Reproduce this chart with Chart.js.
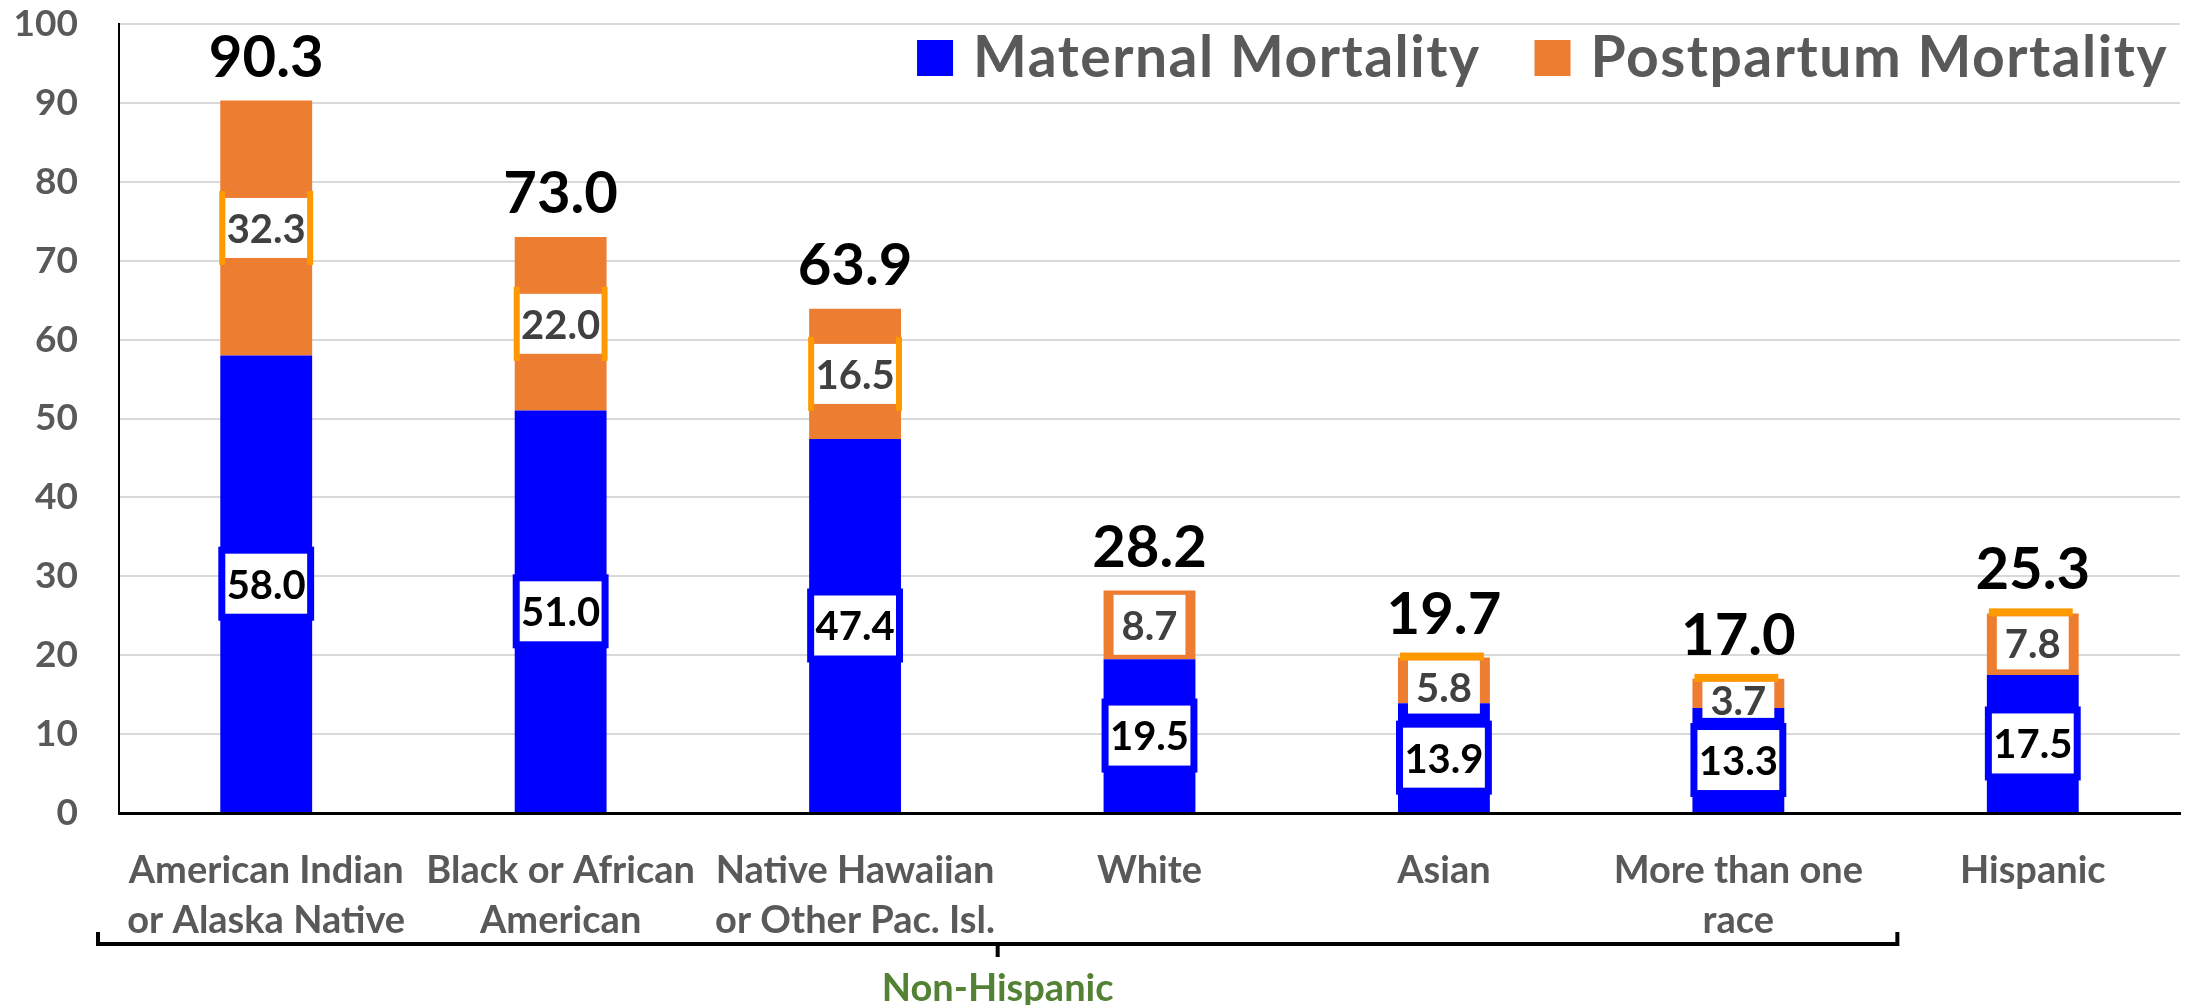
<!DOCTYPE html>
<html>
<head>
<meta charset="utf-8">
<script src="https://cdn.jsdelivr.net/npm/chart.js@4.4.1/dist/chart.umd.min.js"></script>
<style>
  html, body { margin: 0; padding: 0; background: #fff; }
  #wrap { width: 2195px; height: 1005px; position: relative; }
</style>
</head>
<body>
<div id="wrap"><canvas id="chart"></canvas></div>
<script>
// data
const categories = [
    ["American Indian", "or Alaska Native"],
    ["Black or African", "American"],
    ["Native Hawaiian", "or Other Pac. Isl."],
    "White",
    "Asian",
    ["More than one", "race"],
    "Hispanic"
];
const maternal = [58.0, 51.0, 47.4, 19.5, 13.9, 13.3, 17.5];
const postpartum = [32.3, 22.0, 16.5, 8.7, 5.8, 3.7, 7.8];
const totals = [90.3, 73.0, 63.9, 28.2, 19.7, 17.0, 25.3];
const seriesNames = ["Maternal Mortality", "Postpartum Mortality"];
const groupLabel = "Non-Hispanic";
const groupSize = 6; // first six categories are non-hispanic

const FONT = 'Lato, "Open Sans", sans-serif';
const BLUE = '#0000FF';
const ORANGE = '#ED7D31';
const BRIGHT = '#FF9900';
const GRAY = '#595959';

// white value boxes inside each segment
const segmentLabels = {
    id: 'segmentLabels',
    afterDatasetsDraw(chart) {
        const ctx = chart.ctx;
        ctx.save();
        ctx.font = 'bold 40px ' + FONT;
        ctx.textAlign = 'center';
        ctx.textBaseline = 'middle';

        chart.data.datasets.forEach(function (ds, di) {
            const meta = chart.getDatasetMeta(di);
            meta.data.forEach(function (bar, i) {
                const text = ds.data[i].toFixed(1);
                const top = Math.min(bar.y, bar.base);
                const bottom = Math.max(bar.y, bar.base);
                const segH = bottom - top;
                const tw = ctx.measureText(text).width;
                const w = Math.min(bar.width - 10, tw + 16);
                let h = 60;
                let cy = (top + bottom) / 2;

                if (di === 0) {
                    ctx.fillStyle = BLUE;
                    ctx.fillRect(bar.x - w / 2 - 7, cy - h / 2 - 7, w + 14, h + 14);
                } else if (segH >= 100) {
                    ctx.fillStyle = BRIGHT;
                    ctx.fillRect(bar.x - w / 2 - 6, cy - 37, 6, 74);
                    ctx.fillRect(bar.x + w / 2, cy - 37, 6, 74);
                } else if (segH < 65) {
                    h = segH < 40 ? 36 : 53;
                    ctx.fillStyle = BRIGHT;
                    ctx.fillRect(bar.x - bar.width / 2 + 2, top - 5, bar.width - 8, 8);
                    cy = top + 3 + h / 2;
                }

                ctx.fillStyle = '#FFFFFF';
                ctx.fillRect(bar.x - w / 2, cy - h / 2, w, h);
                ctx.fillStyle = di === 0 ? '#000000' : '#404040';
                ctx.fillText(text, bar.x, cy + 2);
            });
        });

        // totals on top of each stack
        const topMeta = chart.getDatasetMeta(chart.data.datasets.length - 1);
        ctx.font = 'bold 58px ' + FONT;
        ctx.fillStyle = '#000000';
        ctx.textBaseline = 'alphabetic';
        topMeta.data.forEach(function (bar, i) {
            ctx.fillText(totals[i].toFixed(1), bar.x, bar.y - 24);
        });
        ctx.restore();
    }
};

// legend inside the plot, bracket and group label under the axis
const extras = {
    id: 'extras',
    afterDraw(chart) {
        const ctx = chart.ctx;
        const area = chart.chartArea;
        const xScale = chart.scales.x;
        ctx.save();

        // legend, laid out from the right edge
        ctx.font = 'bold 57px ' + FONT;
        ctx.letterSpacing = '1.5px';
        ctx.textBaseline = 'alphabetic';
        ctx.textAlign = 'left';
        let right = area.right - 12;
        const items = chart.data.datasets.slice().reverse();
        items.forEach(function (ds) {
            const tw = ctx.measureText(ds.label).width;
            const tx = right - tw;
            ctx.fillStyle = GRAY;
            ctx.fillText(ds.label, tx, 77);
            ctx.fillStyle = ds.backgroundColor;
            ctx.fillRect(tx - 20 - 36, 40, 36, 36);
            right = tx - 20 - 36 - 54;
        });
        ctx.letterSpacing = '0px';

        // bracket under the non-hispanic groups
        const step = xScale.getPixelForValue(1) - xScale.getPixelForValue(0);
        const x0 = area.left - 21;
        const x1 = xScale.getPixelForValue(groupSize - 1) + step * 0.54;
        const yb = area.bottom + 131;
        ctx.strokeStyle = '#000000';
        ctx.lineWidth = 4;
        ctx.beginPath();
        ctx.moveTo(x0, yb - 12);
        ctx.lineTo(x0, yb);
        ctx.lineTo(x1, yb);
        ctx.lineTo(x1, yb - 12);
        ctx.moveTo((x0 + x1) / 2, yb);
        ctx.lineTo((x0 + x1) / 2, yb + 13);
        ctx.stroke();

        ctx.font = 'bold 38px ' + FONT;
        ctx.fillStyle = '#548235';
        ctx.textAlign = 'center';
        ctx.fillText(groupLabel, (x0 + x1) / 2, area.bottom + 188);
        ctx.restore();
    }
};

const ctx = document.getElementById('chart');
new Chart(ctx, {
    type: 'bar',
    data: {
        labels: categories,
        datasets: [{
            label: seriesNames[0],
            data: maternal,
            backgroundColor: BLUE,
            borderWidth: 0,
            categoryPercentage: 0.8,
            barPercentage: 0.39
        }, {
            label: seriesNames[1],
            data: postpartum,
            backgroundColor: ORANGE,
            borderWidth: 0,
            categoryPercentage: 0.8,
            barPercentage: 0.39
        }]
    },
    options: {
        responsive: true,
        maintainAspectRatio: false,
        animation: false,
        layout: {
            padding: { top: 24, right: 15, left: 0, bottom: 0 }
        },
        plugins: {
            legend: { display: false },
            tooltip: { enabled: false }
        },
        scales: {
            x: {
                stacked: true,
                grid: { display: false },
                border: { color: '#000000', width: 3 },
                ticks: {
                    color: GRAY,
                    font: { family: FONT, size: 38, weight: 'bold', lineHeight: 1.32 },
                    maxRotation: 0,
                    minRotation: 0,
                    autoSkip: false,
                    padding: 25
                },
                afterFit: function (scale) {
                    scale.height = 192;
                    scale.paddingLeft = 0;
                    scale.paddingRight = 0;
                }
            },
            y: {
                stacked: true,
                min: 0,
                max: 100,
                grid: { color: '#D9D9D9', lineWidth: 2, drawTicks: false },
                border: { color: '#000000', width: 2 },
                ticks: {
                    stepSize: 10,
                    color: GRAY,
                    font: { family: FONT, size: 37, weight: 'bold' },
                    padding: 41
                },
                afterFit: function (scale) {
                    scale.width = 119;
                    scale.paddingTop = 0;
                    scale.paddingBottom = 0;
                }
            }
        }
    },
    plugins: [segmentLabels, extras]
});
</script>
</body>
</html>
